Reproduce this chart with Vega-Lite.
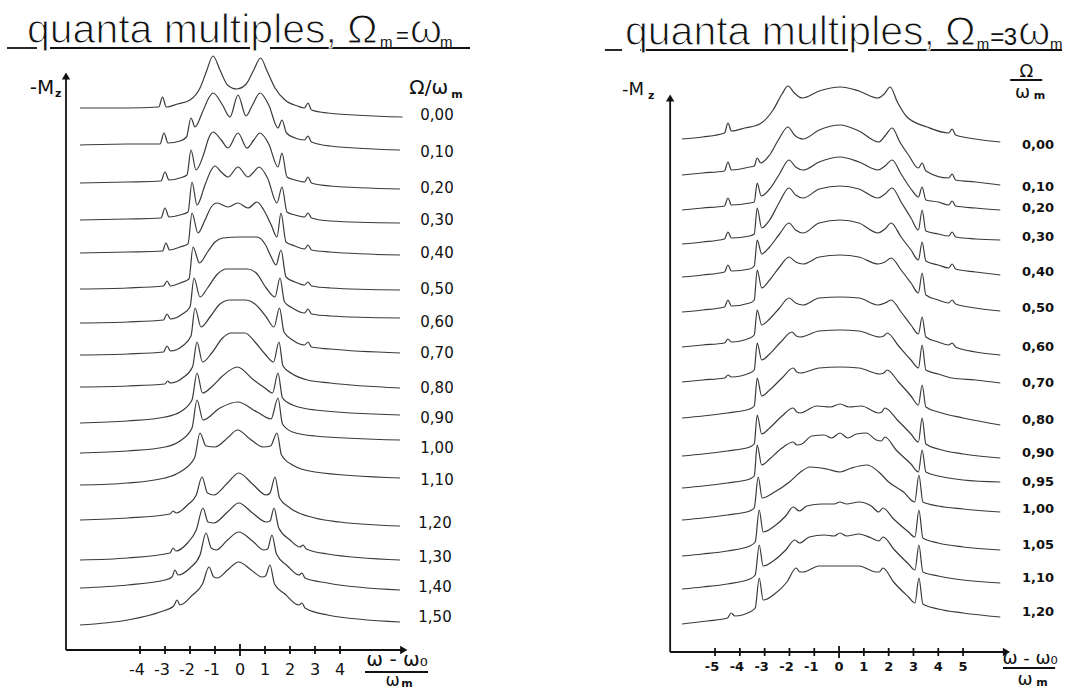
{
"$schema":"https://vega.github.io/schema/vega-lite/v6.json",
"padding":0,"spacing":0,"background":"white",
"config":{"view":{"stroke":null},"concat":{"spacing":0}},
"datasets":{
"cl":[
{"c":"0,00","x":-6.4,"y":542},{"c":"0,00","x":-4.5,"y":542},{"c":"0,00","x":-3.25,"y":543},{"c":"0,00","x":-3.1,"y":553},{"c":"0,00","x":-2.95,"y":543},{"c":"0,00","x":-2.5,"y":546},{"c":"0,00","x":-2.0,"y":550},{"c":"0,00","x":-1.6,"y":562},{"c":"0,00","x":-1.35,"y":578},{"c":"0,00","x":-1.08,"y":594},{"c":"0,00","x":-0.8,"y":580},{"c":"0,00","x":-0.5,"y":565},{"c":"0,00","x":-0.14,"y":561},{"c":"0,00","x":0.25,"y":566},{"c":"0,00","x":0.55,"y":580},{"c":"0,00","x":0.82,"y":592},{"c":"0,00","x":1.1,"y":578},{"c":"0,00","x":1.4,"y":562},{"c":"0,00","x":1.8,"y":550},{"c":"0,00","x":2.3,"y":544},{"c":"0,00","x":2.58,"y":542},{"c":"0,00","x":2.72,"y":547},{"c":"0,00","x":2.86,"y":540},{"c":"0,00","x":3.5,"y":537},{"c":"0,00","x":6.5,"y":533},
{"c":"0,10","x":-6.4,"y":505},{"c":"0,10","x":-4.5,"y":506},{"c":"0,10","x":-3.2,"y":506},{"c":"0,10","x":-3.04,"y":517},{"c":"0,10","x":-2.88,"y":507},{"c":"0,10","x":-2.4,"y":509},{"c":"0,10","x":-2.14,"y":513},{"c":"0,10","x":-1.96,"y":532},{"c":"0,10","x":-1.8,"y":523},{"c":"0,10","x":-1.5,"y":538},{"c":"0,10","x":-1.25,"y":552},{"c":"0,10","x":-1.08,"y":557},{"c":"0,10","x":-0.7,"y":545},{"c":"0,10","x":-0.4,"y":533},{"c":"0,10","x":-0.08,"y":555},{"c":"0,10","x":0.24,"y":534},{"c":"0,10","x":0.5,"y":545},{"c":"0,10","x":0.8,"y":557},{"c":"0,10","x":1.15,"y":545},{"c":"0,10","x":1.52,"y":522},{"c":"0,10","x":1.68,"y":530},{"c":"0,10","x":1.86,"y":517},{"c":"0,10","x":2.2,"y":512},{"c":"0,10","x":2.58,"y":510},{"c":"0,10","x":2.72,"y":514},{"c":"0,10","x":2.86,"y":508},{"c":"0,10","x":3.6,"y":504},{"c":"0,10","x":6.4,"y":500},
{"c":"0,20","x":-6.4,"y":467},{"c":"0,20","x":-4.5,"y":468},{"c":"0,20","x":-3.16,"y":469},{"c":"0,20","x":-3.0,"y":478},{"c":"0,20","x":-2.84,"y":470},{"c":"0,20","x":-2.4,"y":472},{"c":"0,20","x":-2.12,"y":475},{"c":"0,20","x":-1.96,"y":500},{"c":"0,20","x":-1.76,"y":480},{"c":"0,20","x":-1.45,"y":496},{"c":"0,20","x":-1.25,"y":512},{"c":"0,20","x":-1.08,"y":518},{"c":"0,20","x":-0.75,"y":510},{"c":"0,20","x":-0.48,"y":502},{"c":"0,20","x":-0.08,"y":517},{"c":"0,20","x":0.28,"y":502},{"c":"0,20","x":0.55,"y":510},{"c":"0,20","x":0.8,"y":517},{"c":"0,20","x":1.15,"y":506},{"c":"0,20","x":1.52,"y":483},{"c":"0,20","x":1.68,"y":497},{"c":"0,20","x":1.88,"y":473},{"c":"0,20","x":2.2,"y":470},{"c":"0,20","x":2.58,"y":468},{"c":"0,20","x":2.72,"y":473},{"c":"0,20","x":2.86,"y":467},{"c":"0,20","x":3.6,"y":464},{"c":"0,20","x":6.4,"y":461},
{"c":"0,30","x":-6.4,"y":430},{"c":"0,30","x":-4.5,"y":431},{"c":"0,30","x":-3.16,"y":432},{"c":"0,30","x":-3.0,"y":442},{"c":"0,30","x":-2.84,"y":433},{"c":"0,30","x":-2.4,"y":435},{"c":"0,30","x":-2.08,"y":438},{"c":"0,30","x":-1.92,"y":468},{"c":"0,30","x":-1.72,"y":445},{"c":"0,30","x":-1.4,"y":465},{"c":"0,30","x":-1.15,"y":480},{"c":"0,30","x":-1.0,"y":484},{"c":"0,30","x":-0.75,"y":478},{"c":"0,30","x":-0.48,"y":473},{"c":"0,30","x":-0.08,"y":483},{"c":"0,30","x":0.32,"y":473},{"c":"0,30","x":0.55,"y":478},{"c":"0,30","x":0.76,"y":483},{"c":"0,30","x":1.1,"y":472},{"c":"0,30","x":1.48,"y":447},{"c":"0,30","x":1.68,"y":463},{"c":"0,30","x":1.88,"y":438},{"c":"0,30","x":2.2,"y":435},{"c":"0,30","x":2.58,"y":433},{"c":"0,30","x":2.72,"y":437},{"c":"0,30","x":2.86,"y":432},{"c":"0,30","x":3.6,"y":429},{"c":"0,30","x":6.4,"y":427},
{"c":"0,40","x":-6.4,"y":397},{"c":"0,40","x":-4.5,"y":398},{"c":"0,40","x":-3.1,"y":399},{"c":"0,40","x":-2.96,"y":407},{"c":"0,40","x":-2.82,"y":400},{"c":"0,40","x":-2.4,"y":403},{"c":"0,40","x":-2.08,"y":406},{"c":"0,40","x":-1.92,"y":437},{"c":"0,40","x":-1.68,"y":417},{"c":"0,40","x":-1.4,"y":430},{"c":"0,40","x":-1.15,"y":443},{"c":"0,40","x":-0.92,"y":447},{"c":"0,40","x":-0.48,"y":443},{"c":"0,40","x":-0.08,"y":447},{"c":"0,40","x":0.32,"y":442},{"c":"0,40","x":0.68,"y":448},{"c":"0,40","x":0.95,"y":440},{"c":"0,40","x":1.25,"y":425},{"c":"0,40","x":1.48,"y":413},{"c":"0,40","x":1.64,"y":437},{"c":"0,40","x":1.84,"y":408},{"c":"0,40","x":2.2,"y":404},{"c":"0,40","x":2.58,"y":401},{"c":"0,40","x":2.72,"y":405},{"c":"0,40","x":2.86,"y":400},{"c":"0,40","x":3.6,"y":398},{"c":"0,40","x":6.4,"y":395},
{"c":"0,50","x":-6.4,"y":361},{"c":"0,50","x":-4.5,"y":362},{"c":"0,50","x":-3.06,"y":364},{"c":"0,50","x":-2.92,"y":369},{"c":"0,50","x":-2.78,"y":364},{"c":"0,50","x":-2.4,"y":367},{"c":"0,50","x":-2.04,"y":371},{"c":"0,50","x":-1.88,"y":403},{"c":"0,50","x":-1.62,"y":387},{"c":"0,50","x":-1.3,"y":398},{"c":"0,50","x":-1.0,"y":408},{"c":"0,50","x":-0.68,"y":412},{"c":"0,50","x":0,"y":413},{"c":"0,50","x":0.68,"y":413},{"c":"0,50","x":1.0,"y":406},{"c":"0,50","x":1.25,"y":393},{"c":"0,50","x":1.44,"y":385},{"c":"0,50","x":1.64,"y":400},{"c":"0,50","x":1.84,"y":373},{"c":"0,50","x":2.2,"y":368},{"c":"0,50","x":2.58,"y":365},{"c":"0,50","x":2.72,"y":368},{"c":"0,50","x":2.86,"y":364},{"c":"0,50","x":3.6,"y":362},{"c":"0,50","x":6.4,"y":360},
{"c":"0,60","x":-6.4,"y":327},{"c":"0,60","x":-4.5,"y":328},{"c":"0,60","x":-3.06,"y":330},{"c":"0,60","x":-2.92,"y":336},{"c":"0,60","x":-2.78,"y":331},{"c":"0,60","x":-2.3,"y":336},{"c":"0,60","x":-2.0,"y":343},{"c":"0,60","x":-1.84,"y":372},{"c":"0,60","x":-1.6,"y":353},{"c":"0,60","x":-1.3,"y":362},{"c":"0,60","x":-0.9,"y":376},{"c":"0,60","x":-0.55,"y":381},{"c":"0,60","x":0.3,"y":381},{"c":"0,60","x":0.65,"y":377},{"c":"0,60","x":1.05,"y":362},{"c":"0,60","x":1.4,"y":353},{"c":"0,60","x":1.6,"y":372},{"c":"0,60","x":1.78,"y":348},{"c":"0,60","x":2.1,"y":342},{"c":"0,60","x":2.58,"y":337},{"c":"0,60","x":2.72,"y":341},{"c":"0,60","x":2.86,"y":336},{"c":"0,60","x":3.6,"y":334},{"c":"0,60","x":6.4,"y":332},
{"c":"0,70","x":-6.4,"y":295},{"c":"0,70","x":-4.5,"y":296},{"c":"0,70","x":-3.06,"y":298},{"c":"0,70","x":-2.92,"y":304},{"c":"0,70","x":-2.78,"y":299},{"c":"0,70","x":-2.3,"y":304},{"c":"0,70","x":-1.96,"y":314},{"c":"0,70","x":-1.8,"y":342},{"c":"0,70","x":-1.56,"y":323},{"c":"0,70","x":-1.2,"y":333},{"c":"0,70","x":-0.8,"y":346},{"c":"0,70","x":-0.4,"y":350},{"c":"0,70","x":0.2,"y":350},{"c":"0,70","x":0.6,"y":346},{"c":"0,70","x":1.05,"y":333},{"c":"0,70","x":1.36,"y":323},{"c":"0,70","x":1.58,"y":342},{"c":"0,70","x":1.76,"y":318},{"c":"0,70","x":2.1,"y":310},{"c":"0,70","x":2.58,"y":305},{"c":"0,70","x":2.72,"y":308},{"c":"0,70","x":2.86,"y":303},{"c":"0,70","x":3.6,"y":301},{"c":"0,70","x":6.4,"y":297},
{"c":"0,80","x":-6.4,"y":263},{"c":"0,80","x":-4.5,"y":264},{"c":"0,80","x":-3.0,"y":266},{"c":"0,80","x":-2.9,"y":269},{"c":"0,80","x":-2.78,"y":267},{"c":"0,80","x":-2.3,"y":272},{"c":"0,80","x":-1.9,"y":283},{"c":"0,80","x":-1.72,"y":308},{"c":"0,80","x":-1.5,"y":288},{"c":"0,80","x":-1.1,"y":298},{"c":"0,80","x":-0.7,"y":312},{"c":"0,80","x":-0.35,"y":317},{"c":"0,80","x":0.2,"y":317},{"c":"0,80","x":0.6,"y":308},{"c":"0,80","x":1.0,"y":296},{"c":"0,80","x":1.34,"y":288},{"c":"0,80","x":1.56,"y":308},{"c":"0,80","x":1.72,"y":284},{"c":"0,80","x":2.1,"y":276},{"c":"0,80","x":2.7,"y":270},{"c":"0,80","x":3.6,"y":267},{"c":"0,80","x":6.4,"y":262},
{"c":"0,90","x":-6.4,"y":227},{"c":"0,90","x":-4.5,"y":229},{"c":"0,90","x":-3.0,"y":233},{"c":"0,90","x":-2.4,"y":238},{"c":"0,90","x":-1.92,"y":250},{"c":"0,90","x":-1.72,"y":277},{"c":"0,90","x":-1.5,"y":257},{"c":"0,90","x":-1.1,"y":264},{"c":"0,90","x":-0.7,"y":274},{"c":"0,90","x":-0.1,"y":283},{"c":"0,90","x":0.5,"y":271},{"c":"0,90","x":1.0,"y":262},{"c":"0,90","x":1.3,"y":257},{"c":"0,90","x":1.52,"y":277},{"c":"0,90","x":1.7,"y":252},{"c":"0,90","x":2.1,"y":245},{"c":"0,90","x":3.0,"y":240},{"c":"0,90","x":6.4,"y":235},
{"c":"1,00","x":-6.4,"y":197},{"c":"1,00","x":-4.5,"y":199},{"c":"1,00","x":-3.0,"y":203},{"c":"1,00","x":-2.4,"y":209},{"c":"1,00","x":-1.92,"y":222},{"c":"1,00","x":-1.72,"y":250},{"c":"1,00","x":-1.48,"y":230},{"c":"1,00","x":-0.8,"y":242},{"c":"1,00","x":-0.1,"y":248},{"c":"1,00","x":0.68,"y":238},{"c":"1,00","x":1.24,"y":231},{"c":"1,00","x":1.52,"y":252},{"c":"1,00","x":1.7,"y":226},{"c":"1,00","x":2.1,"y":218},{"c":"1,00","x":3.0,"y":214},{"c":"1,00","x":6.4,"y":210},
{"c":"1,10","x":-6.4,"y":165},{"c":"1,10","x":-4.5,"y":167},{"c":"1,10","x":-3.0,"y":172},{"c":"1,10","x":-2.4,"y":178},{"c":"1,10","x":-1.82,"y":192},{"c":"1,10","x":-1.6,"y":217},{"c":"1,10","x":-1.36,"y":204},{"c":"1,10","x":-1.0,"y":203},{"c":"1,10","x":-0.5,"y":212},{"c":"1,10","x":-0.1,"y":220},{"c":"1,10","x":0.4,"y":211},{"c":"1,10","x":0.92,"y":203},{"c":"1,10","x":1.22,"y":204},{"c":"1,10","x":1.48,"y":217},{"c":"1,10","x":1.66,"y":195},{"c":"1,10","x":2.1,"y":185},{"c":"1,10","x":3.0,"y":178},{"c":"1,10","x":6.4,"y":172},
{"c":"1,20","x":-6.4,"y":130},{"c":"1,20","x":-4.5,"y":132},{"c":"1,20","x":-2.8,"y":136},{"c":"1,20","x":-2.68,"y":139},{"c":"1,20","x":-2.55,"y":137},{"c":"1,20","x":-2.1,"y":145},{"c":"1,20","x":-1.75,"y":155},{"c":"1,20","x":-1.52,"y":173},{"c":"1,20","x":-1.3,"y":157},{"c":"1,20","x":-1.05,"y":155},{"c":"1,20","x":-0.5,"y":167},{"c":"1,20","x":-0.05,"y":177},{"c":"1,20","x":0.5,"y":166},{"c":"1,20","x":1.05,"y":155},{"c":"1,20","x":1.2,"y":157},{"c":"1,20","x":1.4,"y":173},{"c":"1,20","x":1.58,"y":152},{"c":"1,20","x":2.0,"y":142},{"c":"1,20","x":3.0,"y":132},{"c":"1,20","x":4.0,"y":128},{"c":"1,20","x":6.4,"y":124},
{"c":"1,30","x":-6.4,"y":90},{"c":"1,30","x":-4.5,"y":92},{"c":"1,30","x":-2.8,"y":97},{"c":"1,30","x":-2.68,"y":102},{"c":"1,30","x":-2.56,"y":99},{"c":"1,30","x":-2.1,"y":107},{"c":"1,30","x":-1.75,"y":120},{"c":"1,30","x":-1.48,"y":142},{"c":"1,30","x":-1.28,"y":128},{"c":"1,30","x":-1.05,"y":127},{"c":"1,30","x":-0.5,"y":138},{"c":"1,30","x":-0.05,"y":147},{"c":"1,30","x":0.5,"y":137},{"c":"1,30","x":1.05,"y":128},{"c":"1,30","x":1.2,"y":129},{"c":"1,30","x":1.36,"y":142},{"c":"1,30","x":1.55,"y":122},{"c":"1,30","x":2.0,"y":110},{"c":"1,30","x":2.4,"y":103},{"c":"1,30","x":2.52,"y":105},{"c":"1,30","x":2.65,"y":101},{"c":"1,30","x":3.5,"y":96},{"c":"1,30","x":6.4,"y":90},
{"c":"1,40","x":-6.4,"y":62},{"c":"1,40","x":-4.5,"y":65},{"c":"1,40","x":-3.0,"y":70},{"c":"1,40","x":-2.72,"y":73},{"c":"1,40","x":-2.6,"y":80},{"c":"1,40","x":-2.48,"y":75},{"c":"1,40","x":-2.0,"y":82},{"c":"1,40","x":-1.6,"y":95},{"c":"1,40","x":-1.36,"y":117},{"c":"1,40","x":-1.15,"y":102},{"c":"1,40","x":-0.95,"y":100},{"c":"1,40","x":-0.5,"y":110},{"c":"1,40","x":-0.05,"y":118},{"c":"1,40","x":0.5,"y":109},{"c":"1,40","x":0.95,"y":100},{"c":"1,40","x":1.1,"y":101},{"c":"1,40","x":1.28,"y":115},{"c":"1,40","x":1.46,"y":96},{"c":"1,40","x":1.9,"y":84},{"c":"1,40","x":2.36,"y":75},{"c":"1,40","x":2.48,"y":77},{"c":"1,40","x":2.6,"y":72},{"c":"1,40","x":3.5,"y":67},{"c":"1,40","x":6.4,"y":60},
{"c":"1,50","x":-6.4,"y":25},{"c":"1,50","x":-4.5,"y":30},{"c":"1,50","x":-3.2,"y":38},{"c":"1,50","x":-2.65,"y":44},{"c":"1,50","x":-2.52,"y":50},{"c":"1,50","x":-2.4,"y":45},{"c":"1,50","x":-1.9,"y":55},{"c":"1,50","x":-1.5,"y":66},{"c":"1,50","x":-1.24,"y":83},{"c":"1,50","x":-1.05,"y":73},{"c":"1,50","x":-0.9,"y":72},{"c":"1,50","x":-0.5,"y":80},{"c":"1,50","x":-0.05,"y":88},{"c":"1,50","x":0.45,"y":80},{"c":"1,50","x":0.88,"y":73},{"c":"1,50","x":1.02,"y":74},{"c":"1,50","x":1.2,"y":85},{"c":"1,50","x":1.38,"y":66},{"c":"1,50","x":1.8,"y":56},{"c":"1,50","x":2.35,"y":45},{"c":"1,50","x":2.48,"y":47},{"c":"1,50","x":2.6,"y":42},{"c":"1,50","x":3.5,"y":35},{"c":"1,50","x":6.4,"y":28}
],
"cr":[
{"c":"0,00","x":-6.33,"y":513},{"c":"0,00","x":-5.5,"y":515},{"c":"0,00","x":-4.62,"y":519},{"c":"0,00","x":-4.48,"y":529},{"c":"0,00","x":-4.34,"y":521},{"c":"0,00","x":-3.8,"y":524},{"c":"0,00","x":-3.2,"y":528},{"c":"0,00","x":-2.66,"y":542},{"c":"0,00","x":-2.3,"y":558},{"c":"0,00","x":-2.06,"y":566},{"c":"0,00","x":-1.8,"y":559},{"c":"0,00","x":-1.49,"y":554},{"c":"0,00","x":-0.8,"y":561},{"c":"0,00","x":0.04,"y":565},{"c":"0,00","x":0.8,"y":561},{"c":"0,00","x":1.57,"y":554},{"c":"0,00","x":1.82,"y":558},{"c":"0,00","x":2.06,"y":565},{"c":"0,00","x":2.35,"y":550},{"c":"0,00","x":2.74,"y":535},{"c":"0,00","x":3.55,"y":525},{"c":"0,00","x":4.42,"y":519},{"c":"0,00","x":4.56,"y":523},{"c":"0,00","x":4.7,"y":517},{"c":"0,00","x":5.5,"y":513},{"c":"0,00","x":6.5,"y":510},
{"c":"0,10","x":-6.33,"y":477},{"c":"0,10","x":-5.5,"y":479},{"c":"0,10","x":-4.62,"y":481},{"c":"0,10","x":-4.48,"y":490},{"c":"0,10","x":-4.34,"y":482},{"c":"0,10","x":-3.6,"y":485},{"c":"0,10","x":-3.42,"y":486},{"c":"0,10","x":-3.3,"y":494},{"c":"0,10","x":-3.16,"y":489},{"c":"0,10","x":-2.8,"y":497},{"c":"0,10","x":-2.45,"y":512},{"c":"0,10","x":-2.06,"y":525},{"c":"0,10","x":-1.8,"y":517},{"c":"0,10","x":-1.45,"y":513},{"c":"0,10","x":-0.8,"y":522},{"c":"0,10","x":0.04,"y":527},{"c":"0,10","x":0.8,"y":521},{"c":"0,10","x":1.6,"y":510},{"c":"0,10","x":1.85,"y":516},{"c":"0,10","x":2.14,"y":524},{"c":"0,10","x":2.45,"y":510},{"c":"0,10","x":2.8,"y":497},{"c":"0,10","x":3.2,"y":484},{"c":"0,10","x":3.35,"y":489},{"c":"0,10","x":3.5,"y":481},{"c":"0,10","x":4.42,"y":474},{"c":"0,10","x":4.56,"y":478},{"c":"0,10","x":4.7,"y":472},{"c":"0,10","x":5.5,"y":470},{"c":"0,10","x":6.5,"y":467},
{"c":"0,20","x":-6.33,"y":442},{"c":"0,20","x":-5.5,"y":444},{"c":"0,20","x":-4.62,"y":446},{"c":"0,20","x":-4.48,"y":454},{"c":"0,20","x":-4.34,"y":447},{"c":"0,20","x":-3.6,"y":449},{"c":"0,20","x":-3.42,"y":450},{"c":"0,20","x":-3.3,"y":469},{"c":"0,20","x":-3.14,"y":456},{"c":"0,20","x":-2.8,"y":463},{"c":"0,20","x":-2.4,"y":478},{"c":"0,20","x":-2.02,"y":492},{"c":"0,20","x":-1.75,"y":485},{"c":"0,20","x":-1.45,"y":482},{"c":"0,20","x":-0.8,"y":490},{"c":"0,20","x":0.04,"y":495},{"c":"0,20","x":0.8,"y":490},{"c":"0,20","x":1.57,"y":482},{"c":"0,20","x":1.85,"y":486},{"c":"0,20","x":2.14,"y":492},{"c":"0,20","x":2.5,"y":478},{"c":"0,20","x":2.9,"y":463},{"c":"0,20","x":3.2,"y":455},{"c":"0,20","x":3.35,"y":465},{"c":"0,20","x":3.5,"y":452},{"c":"0,20","x":4.0,"y":450},{"c":"0,20","x":4.42,"y":447},{"c":"0,20","x":4.56,"y":451},{"c":"0,20","x":4.7,"y":446},{"c":"0,20","x":5.5,"y":444},{"c":"0,20","x":6.5,"y":442},
{"c":"0,30","x":-6.33,"y":408},{"c":"0,30","x":-5.5,"y":410},{"c":"0,30","x":-4.62,"y":413},{"c":"0,30","x":-4.48,"y":420},{"c":"0,30","x":-4.34,"y":414},{"c":"0,30","x":-3.6,"y":416},{"c":"0,30","x":-3.42,"y":418},{"c":"0,30","x":-3.3,"y":444},{"c":"0,30","x":-3.12,"y":424},{"c":"0,30","x":-2.8,"y":432},{"c":"0,30","x":-2.4,"y":450},{"c":"0,30","x":-2.02,"y":464},{"c":"0,30","x":-1.75,"y":457},{"c":"0,30","x":-1.45,"y":454},{"c":"0,30","x":-0.8,"y":463},{"c":"0,30","x":0.04,"y":466},{"c":"0,30","x":0.8,"y":463},{"c":"0,30","x":1.57,"y":454},{"c":"0,30","x":1.85,"y":458},{"c":"0,30","x":2.14,"y":464},{"c":"0,30","x":2.5,"y":450},{"c":"0,30","x":2.9,"y":434},{"c":"0,30","x":3.2,"y":422},{"c":"0,30","x":3.35,"y":442},{"c":"0,30","x":3.5,"y":421},{"c":"0,30","x":4.0,"y":418},{"c":"0,30","x":4.42,"y":416},{"c":"0,30","x":4.56,"y":420},{"c":"0,30","x":4.7,"y":415},{"c":"0,30","x":5.5,"y":413},{"c":"0,30","x":6.5,"y":412},
{"c":"0,40","x":-6.33,"y":375},{"c":"0,40","x":-5.5,"y":377},{"c":"0,40","x":-4.62,"y":380},{"c":"0,40","x":-4.48,"y":387},{"c":"0,40","x":-4.34,"y":381},{"c":"0,40","x":-3.6,"y":383},{"c":"0,40","x":-3.42,"y":386},{"c":"0,40","x":-3.3,"y":412},{"c":"0,40","x":-3.12,"y":398},{"c":"0,40","x":-2.8,"y":405},{"c":"0,40","x":-2.4,"y":418},{"c":"0,40","x":-2.02,"y":429},{"c":"0,40","x":-1.75,"y":422},{"c":"0,40","x":-1.45,"y":419},{"c":"0,40","x":-0.8,"y":429},{"c":"0,40","x":0.04,"y":432},{"c":"0,40","x":0.8,"y":429},{"c":"0,40","x":1.57,"y":419},{"c":"0,40","x":1.85,"y":423},{"c":"0,40","x":2.1,"y":429},{"c":"0,40","x":2.5,"y":415},{"c":"0,40","x":2.9,"y":402},{"c":"0,40","x":3.2,"y":392},{"c":"0,40","x":3.35,"y":410},{"c":"0,40","x":3.5,"y":391},{"c":"0,40","x":4.0,"y":387},{"c":"0,40","x":4.42,"y":384},{"c":"0,40","x":4.56,"y":388},{"c":"0,40","x":4.7,"y":383},{"c":"0,40","x":5.5,"y":380},{"c":"0,40","x":6.5,"y":377},
{"c":"0,50","x":-6.33,"y":340},{"c":"0,50","x":-5.5,"y":342},{"c":"0,50","x":-4.62,"y":345},{"c":"0,50","x":-4.48,"y":352},{"c":"0,50","x":-4.34,"y":346},{"c":"0,50","x":-3.6,"y":349},{"c":"0,50","x":-3.42,"y":352},{"c":"0,50","x":-3.3,"y":382},{"c":"0,50","x":-3.12,"y":364},{"c":"0,50","x":-2.8,"y":372},{"c":"0,50","x":-2.4,"y":385},{"c":"0,50","x":-2.02,"y":395},{"c":"0,50","x":-1.75,"y":390},{"c":"0,50","x":-1.45,"y":388},{"c":"0,50","x":-0.8,"y":395},{"c":"0,50","x":0.04,"y":397},{"c":"0,50","x":0.8,"y":395},{"c":"0,50","x":1.57,"y":388},{"c":"0,50","x":1.85,"y":390},{"c":"0,50","x":2.1,"y":394},{"c":"0,50","x":2.5,"y":382},{"c":"0,50","x":2.9,"y":369},{"c":"0,50","x":3.2,"y":359},{"c":"0,50","x":3.35,"y":379},{"c":"0,50","x":3.5,"y":357},{"c":"0,50","x":4.0,"y":352},{"c":"0,50","x":4.42,"y":349},{"c":"0,50","x":4.56,"y":352},{"c":"0,50","x":4.7,"y":348},{"c":"0,50","x":5.5,"y":344},{"c":"0,50","x":6.5,"y":341},
{"c":"0,60","x":-6.33,"y":305},{"c":"0,60","x":-5.5,"y":307},{"c":"0,60","x":-4.62,"y":309},{"c":"0,60","x":-4.48,"y":313},{"c":"0,60","x":-4.34,"y":310},{"c":"0,60","x":-3.6,"y":314},{"c":"0,60","x":-3.42,"y":317},{"c":"0,60","x":-3.3,"y":342},{"c":"0,60","x":-3.12,"y":327},{"c":"0,60","x":-2.8,"y":333},{"c":"0,60","x":-2.4,"y":344},{"c":"0,60","x":-2.02,"y":354},{"c":"0,60","x":-1.75,"y":349},{"c":"0,60","x":-1.45,"y":347},{"c":"0,60","x":-0.8,"y":354},{"c":"0,60","x":0.04,"y":355},{"c":"0,60","x":0.8,"y":354},{"c":"0,60","x":1.57,"y":347},{"c":"0,60","x":1.85,"y":349},{"c":"0,60","x":2.1,"y":352},{"c":"0,60","x":2.5,"y":340},{"c":"0,60","x":2.9,"y":327},{"c":"0,60","x":3.2,"y":318},{"c":"0,60","x":3.35,"y":335},{"c":"0,60","x":3.5,"y":315},{"c":"0,60","x":4.0,"y":310},{"c":"0,60","x":4.42,"y":307},{"c":"0,60","x":4.56,"y":309},{"c":"0,60","x":4.7,"y":305},{"c":"0,60","x":5.5,"y":300},{"c":"0,60","x":6.5,"y":297},
{"c":"0,70","x":-6.33,"y":270},{"c":"0,70","x":-5.5,"y":272},{"c":"0,70","x":-4.62,"y":274},{"c":"0,70","x":-4.48,"y":277},{"c":"0,70","x":-4.34,"y":275},{"c":"0,70","x":-3.6,"y":279},{"c":"0,70","x":-3.42,"y":282},{"c":"0,70","x":-3.3,"y":309},{"c":"0,70","x":-3.12,"y":292},{"c":"0,70","x":-2.8,"y":298},{"c":"0,70","x":-2.35,"y":310},{"c":"0,70","x":-1.9,"y":320},{"c":"0,70","x":-1.72,"y":316},{"c":"0,70","x":-1.57,"y":315},{"c":"0,70","x":-0.8,"y":321},{"c":"0,70","x":0.04,"y":322},{"c":"0,70","x":0.8,"y":321},{"c":"0,70","x":1.65,"y":315},{"c":"0,70","x":1.8,"y":316},{"c":"0,70","x":1.94,"y":319},{"c":"0,70","x":2.4,"y":306},{"c":"0,70","x":2.9,"y":292},{"c":"0,70","x":3.2,"y":284},{"c":"0,70","x":3.35,"y":307},{"c":"0,70","x":3.5,"y":282},{"c":"0,70","x":4.0,"y":278},{"c":"0,70","x":4.56,"y":274},{"c":"0,70","x":5.5,"y":272},{"c":"0,70","x":6.5,"y":269},
{"c":"0,80","x":-6.33,"y":234},{"c":"0,80","x":-5.5,"y":236},{"c":"0,80","x":-4.5,"y":239},{"c":"0,80","x":-3.6,"y":243},{"c":"0,80","x":-3.42,"y":246},{"c":"0,80","x":-3.3,"y":274},{"c":"0,80","x":-3.12,"y":256},{"c":"0,80","x":-2.8,"y":262},{"c":"0,80","x":-2.3,"y":274},{"c":"0,80","x":-1.85,"y":284},{"c":"0,80","x":-1.7,"y":280},{"c":"0,80","x":-1.57,"y":279},{"c":"0,80","x":-0.8,"y":284},{"c":"0,80","x":0.04,"y":285},{"c":"0,80","x":0.8,"y":284},{"c":"0,80","x":1.65,"y":278},{"c":"0,80","x":1.8,"y":279},{"c":"0,80","x":1.94,"y":282},{"c":"0,80","x":2.4,"y":270},{"c":"0,80","x":2.9,"y":256},{"c":"0,80","x":3.2,"y":247},{"c":"0,80","x":3.35,"y":267},{"c":"0,80","x":3.5,"y":245},{"c":"0,80","x":4.0,"y":240},{"c":"0,80","x":5.0,"y":234},{"c":"0,80","x":6.5,"y":227},
{"c":"0,90","x":-6.33,"y":196},{"c":"0,90","x":-5.5,"y":198},{"c":"0,90","x":-4.5,"y":201},{"c":"0,90","x":-3.6,"y":205},{"c":"0,90","x":-3.42,"y":208},{"c":"0,90","x":-3.3,"y":237},{"c":"0,90","x":-3.12,"y":218},{"c":"0,90","x":-2.8,"y":224},{"c":"0,90","x":-2.3,"y":236},{"c":"0,90","x":-1.85,"y":244},{"c":"0,90","x":-1.7,"y":240},{"c":"0,90","x":-1.57,"y":239},{"c":"0,90","x":-0.9,"y":246},{"c":"0,90","x":-0.35,"y":245},{"c":"0,90","x":0.04,"y":248},{"c":"0,90","x":0.4,"y":245},{"c":"0,90","x":0.9,"y":246},{"c":"0,90","x":1.6,"y":239},{"c":"0,90","x":1.72,"y":240},{"c":"0,90","x":1.85,"y":244},{"c":"0,90","x":2.35,"y":232},{"c":"0,90","x":2.9,"y":218},{"c":"0,90","x":3.2,"y":210},{"c":"0,90","x":3.35,"y":234},{"c":"0,90","x":3.5,"y":208},{"c":"0,90","x":4.0,"y":203},{"c":"0,90","x":5.0,"y":198},{"c":"0,90","x":6.5,"y":194},
{"c":"0,95","x":-6.33,"y":164},{"c":"0,95","x":-5.5,"y":166},{"c":"0,95","x":-4.5,"y":169},{"c":"0,95","x":-3.6,"y":173},{"c":"0,95","x":-3.42,"y":176},{"c":"0,95","x":-3.3,"y":207},{"c":"0,95","x":-3.12,"y":187},{"c":"0,95","x":-2.8,"y":193},{"c":"0,95","x":-2.3,"y":204},{"c":"0,95","x":-1.85,"y":210},{"c":"0,95","x":-1.7,"y":207},{"c":"0,95","x":-1.5,"y":208},{"c":"0,95","x":-1.1,"y":216},{"c":"0,95","x":-0.6,"y":217},{"c":"0,95","x":-0.3,"y":214},{"c":"0,95","x":0.04,"y":219},{"c":"0,95","x":0.35,"y":214},{"c":"0,95","x":0.7,"y":218},{"c":"0,95","x":1.1,"y":219},{"c":"0,95","x":1.5,"y":212},{"c":"0,95","x":1.7,"y":211},{"c":"0,95","x":1.85,"y":215},{"c":"0,95","x":2.3,"y":202},{"c":"0,95","x":2.9,"y":188},{"c":"0,95","x":3.2,"y":180},{"c":"0,95","x":3.35,"y":202},{"c":"0,95","x":3.5,"y":180},{"c":"0,95","x":4.0,"y":176},{"c":"0,95","x":5.0,"y":172},{"c":"0,95","x":6.5,"y":170},
{"c":"1,00","x":-6.33,"y":132},{"c":"1,00","x":-5.5,"y":134},{"c":"1,00","x":-4.5,"y":137},{"c":"1,00","x":-3.6,"y":141},{"c":"1,00","x":-3.42,"y":144},{"c":"1,00","x":-3.26,"y":175},{"c":"1,00","x":-3.1,"y":154},{"c":"1,00","x":-2.6,"y":160},{"c":"1,00","x":-2.0,"y":170},{"c":"1,00","x":-1.6,"y":179},{"c":"1,00","x":-1.17,"y":185},{"c":"1,00","x":-0.5,"y":183},{"c":"1,00","x":0.04,"y":180},{"c":"1,00","x":0.5,"y":184},{"c":"1,00","x":1.13,"y":187},{"c":"1,00","x":1.6,"y":180},{"c":"1,00","x":2.0,"y":170},{"c":"1,00","x":2.6,"y":160},{"c":"1,00","x":3.05,"y":150},{"c":"1,00","x":3.22,"y":177},{"c":"1,00","x":3.38,"y":150},{"c":"1,00","x":4.0,"y":146},{"c":"1,00","x":5.0,"y":143},{"c":"1,00","x":6.5,"y":140},
{"c":"1,05","x":-6.33,"y":96},{"c":"1,05","x":-5.5,"y":98},{"c":"1,05","x":-4.5,"y":101},{"c":"1,05","x":-3.6,"y":106},{"c":"1,05","x":-3.38,"y":110},{"c":"1,05","x":-3.22,"y":142},{"c":"1,05","x":-3.06,"y":120},{"c":"1,05","x":-2.6,"y":126},{"c":"1,05","x":-2.15,"y":136},{"c":"1,05","x":-1.85,"y":145},{"c":"1,05","x":-1.6,"y":141},{"c":"1,05","x":-1.3,"y":146},{"c":"1,05","x":-0.7,"y":148},{"c":"1,05","x":-0.2,"y":148},{"c":"1,05","x":0.04,"y":150},{"c":"1,05","x":0.3,"y":148},{"c":"1,05","x":0.8,"y":150},{"c":"1,05","x":1.3,"y":146},{"c":"1,05","x":1.6,"y":140},{"c":"1,05","x":1.77,"y":144},{"c":"1,05","x":2.2,"y":133},{"c":"1,05","x":2.8,"y":120},{"c":"1,05","x":3.06,"y":115},{"c":"1,05","x":3.22,"y":142},{"c":"1,05","x":3.38,"y":114},{"c":"1,05","x":4.0,"y":109},{"c":"1,05","x":5.0,"y":105},{"c":"1,05","x":6.5,"y":102},
{"c":"1,10","x":-6.33,"y":63},{"c":"1,10","x":-5.5,"y":65},{"c":"1,10","x":-4.5,"y":68},{"c":"1,10","x":-3.6,"y":73},{"c":"1,10","x":-3.38,"y":77},{"c":"1,10","x":-3.22,"y":107},{"c":"1,10","x":-3.06,"y":86},{"c":"1,10","x":-2.6,"y":92},{"c":"1,10","x":-2.15,"y":102},{"c":"1,10","x":-1.78,"y":112},{"c":"1,10","x":-1.6,"y":109},{"c":"1,10","x":-1.2,"y":115},{"c":"1,10","x":-0.6,"y":117},{"c":"1,10","x":-0.2,"y":116},{"c":"1,10","x":0.04,"y":119},{"c":"1,10","x":0.3,"y":116},{"c":"1,10","x":0.8,"y":118},{"c":"1,10","x":1.3,"y":114},{"c":"1,10","x":1.6,"y":111},{"c":"1,10","x":1.78,"y":115},{"c":"1,10","x":2.2,"y":103},{"c":"1,10","x":2.8,"y":88},{"c":"1,10","x":3.06,"y":82},{"c":"1,10","x":3.22,"y":107},{"c":"1,10","x":3.38,"y":80},{"c":"1,10","x":4.0,"y":76},{"c":"1,10","x":5.0,"y":72},{"c":"1,10","x":6.5,"y":69},
{"c":"1,20","x":-6.33,"y":28},{"c":"1,20","x":-5.3,"y":31},{"c":"1,20","x":-4.5,"y":34},{"c":"1,20","x":-4.35,"y":39},{"c":"1,20","x":-4.2,"y":36},{"c":"1,20","x":-3.6,"y":40},{"c":"1,20","x":-3.38,"y":44},{"c":"1,20","x":-3.22,"y":74},{"c":"1,20","x":-3.06,"y":52},{"c":"1,20","x":-2.6,"y":58},{"c":"1,20","x":-2.1,"y":70},{"c":"1,20","x":-1.73,"y":84},{"c":"1,20","x":-1.58,"y":80},{"c":"1,20","x":-1.45,"y":80},{"c":"1,20","x":-0.8,"y":86},{"c":"1,20","x":0.04,"y":86},{"c":"1,20","x":0.8,"y":86},{"c":"1,20","x":1.5,"y":80},{"c":"1,20","x":1.62,"y":80},{"c":"1,20","x":1.77,"y":84},{"c":"1,20","x":2.2,"y":70},{"c":"1,20","x":2.8,"y":55},{"c":"1,20","x":3.06,"y":49},{"c":"1,20","x":3.22,"y":74},{"c":"1,20","x":3.38,"y":48},{"c":"1,20","x":4.0,"y":43},{"c":"1,20","x":5.0,"y":39},{"c":"1,20","x":6.5,"y":35}
],
"sl":[
{"x":-6.96,"x2":-6.96,"y":0,"y2":572},{"x":-6.96,"x2":6.5,"y":0,"y2":0},
{"x":-4,"x2":-4,"y":-4,"y2":4},{"x":-3,"x2":-3,"y":-4,"y2":4},{"x":-2,"x2":-2,"y":-4,"y2":4},{"x":-1,"x2":-1,"y":-4,"y2":4},{"x":0,"x2":0,"y":-6,"y2":6},{"x":1,"x2":1,"y":-4,"y2":4},{"x":2,"x2":2,"y":-4,"y2":4},{"x":3,"x2":3,"y":-4,"y2":4},{"x":4,"x2":4,"y":-4,"y2":4},
{"x":-9.32,"x2":-8.12,"y":602,"y2":602},{"x":-7.6,"x2":0.4,"y":602,"y2":602},{"x":1.2,"x2":9.2,"y":602,"y2":602},
{"x":5.0,"x2":7.52,"y":-22,"y2":-22}
],
"sr":[
{"x":-6.81,"x2":-6.81,"y":0,"y2":552},{"x":-6.81,"x2":6.7,"y":0,"y2":0},
{"x":-5,"x2":-5,"y":-4,"y2":4},{"x":-4,"x2":-4,"y":-4,"y2":4},{"x":-3,"x2":-3,"y":-4,"y2":4},{"x":-2,"x2":-2,"y":-4,"y2":4},{"x":-1,"x2":-1,"y":-4,"y2":4},{"x":0,"x2":0,"y":-6,"y2":6},{"x":1,"x2":1,"y":-4,"y2":4},{"x":2,"x2":2,"y":-4,"y2":4},{"x":3,"x2":3,"y":-4,"y2":4},{"x":4,"x2":4,"y":-4,"y2":4},{"x":5,"x2":5,"y":-4,"y2":4},
{"x":-9.44,"x2":-8.75,"y":602,"y2":602},{"x":-8.02,"x2":0.36,"y":602,"y2":602},{"x":1.17,"x2":8.99,"y":602,"y2":602},
{"x":6.9,"x2":8.19,"y":572,"y2":572},{"x":6.61,"x2":8.71,"y":-16,"y2":-16}
],
"upl":[{"x":-6.96,"y":574}],"rtl":[{"x":6.55,"y":0}],
"upr":[{"x":-6.81,"y":554}],"rtr":[{"x":6.75,"y":0}],
"tkl":[{"t":"-4","x":-4.12,"y":-20},{"t":"-3","x":-3.12,"y":-20},{"t":"-2","x":-2.12,"y":-20},{"t":"-1","x":-1.12,"y":-20},{"t":"0","x":0,"y":-20},{"t":"1","x":1,"y":-20},{"t":"2","x":2,"y":-20},{"t":"3","x":3,"y":-20},{"t":"4","x":4,"y":-20}],
"tkr":[{"t":"-5","x":-5.12,"y":-15},{"t":"-4","x":-4.12,"y":-15},{"t":"-3","x":-3.12,"y":-15},{"t":"-2","x":-2.12,"y":-15},{"t":"-1","x":-1.12,"y":-15},{"t":"0","x":0,"y":-15},{"t":"1","x":1,"y":-15},{"t":"2","x":2,"y":-15},{"t":"3","x":3,"y":-15},{"t":"4","x":4,"y":-15},{"t":"5","x":5,"y":-15}],
"rll":[{"t":"0,00","x":7.88,"y":535},{"t":"0,10","x":7.88,"y":498},{"t":"0,20","x":7.88,"y":462},{"t":"0,30","x":7.88,"y":430},{"t":"0,40","x":7.88,"y":397},{"t":"0,50","x":7.88,"y":361},{"t":"0,60","x":7.88,"y":328},{"t":"0,70","x":7.88,"y":297},{"t":"0,80","x":7.88,"y":262},{"t":"0,90","x":7.88,"y":232},{"t":"1,00","x":7.88,"y":202},{"t":"1,10","x":7.88,"y":170},{"t":"1,20","x":7.8,"y":127},{"t":"1,30","x":7.8,"y":93},{"t":"1,40","x":7.8,"y":63},{"t":"1,50","x":7.8,"y":33}],
"rlr":[{"t":"0,00","x":8.02,"y":507},{"t":"0,10","x":8.02,"y":465},{"t":"0,20","x":8.02,"y":444},{"t":"0,30","x":8.02,"y":415},{"t":"0,40","x":8.02,"y":380},{"t":"0,50","x":8.02,"y":344},{"t":"0,60","x":8.02,"y":305},{"t":"0,70","x":8.02,"y":269},{"t":"0,80","x":8.02,"y":232},{"t":"0,90","x":8.02,"y":199},{"t":"0,95","x":8.02,"y":170},{"t":"1,00","x":8.02,"y":143},{"t":"1,05","x":8.02,"y":107},{"t":"1,10","x":8.02,"y":74},{"t":"1,20","x":8.02,"y":40}],
"ttl":[{"t":"quanta multiples,","x":-8.52,"y":607},{"t":"Ω","x":4.28,"y":607},{"t":"ω","x":6.8,"y":607}],
"tml":[{"t":"=","x":6.24,"y":607}],
"tsl":[{"t":"m","x":5.6,"y":603},{"t":"m","x":8.0,"y":603}],
"ttr":[{"t":"quanta multiples,","x":-8.63,"y":607},{"t":"Ω","x":4.27,"y":607},{"t":"ω","x":7.22,"y":607}],
"tmr":[{"t":"=","x":6.1,"y":607},{"t":"3","x":6.64,"y":607}],
"tsr":[{"t":"m","x":5.55,"y":603},{"t":"m","x":8.5,"y":603}],
"anl":[{"t":"-M","x":-7.92,"y":562},{"t":"Ω/ω","x":7.55,"y":562},{"t":"ω - ω₀","x":6.28,"y":-10}],
"adl":[{"t":"ω","x":6.1,"y":-31}],
"asl":[{"t":"z","x":-7.4,"y":556},{"t":"m","x":8.45,"y":555},{"t":"m","x":6.45,"y":-34}],
"anr":[{"t":"-M","x":-8.31,"y":562},{"t":"Ω","x":7.55,"y":580},{"t":"ω","x":7.4,"y":559},{"t":"ω - ω₀","x":7.7,"y":-7},{"t":"ω","x":7.5,"y":-28}],
"asr":[{"t":"z","x":-7.7,"y":556},{"t":"m","x":7.85,"y":556},{"t":"m","x":7.95,"y":-31}]
},
"hconcat":[
{"width":533,"height":691,
"encoding":{"x":{"field":"x","type":"quantitative","scale":{"domain":[-9.6,11.72],"nice":false,"zero":false},"axis":null},
"y":{"field":"y","type":"quantitative","scale":{"domain":[-41,650],"nice":false,"zero":false},"axis":null}},
"layer":[
{"data":{"name":"cl"},"mark":{"type":"line","interpolate":"monotone","strokeWidth":1.2,"color":"#3a3a3a"},"encoding":{"detail":{"field":"c"}}},
{"data":{"name":"sl"},"mark":{"type":"rule","strokeWidth":1.8,"color":"#111"},"encoding":{"x2":{"field":"x2"},"y2":{"field":"y2"}}},
{"data":{"name":"upl"},"mark":{"type":"point","shape":"triangle-up","filled":true,"size":70,"color":"#111","opacity":1}},
{"data":{"name":"rtl"},"mark":{"type":"point","shape":"triangle-right","filled":true,"size":70,"color":"#111","opacity":1}},
{"data":{"name":"tkl"},"mark":{"type":"text","font":"DejaVu Sans","fontSize":16,"align":"center","baseline":"middle","color":"#111"},"encoding":{"text":{"field":"t"}}},
{"data":{"name":"rll"},"mark":{"type":"text","font":"DejaVu Sans","fontSize":15,"align":"center","baseline":"middle","color":"#111"},"encoding":{"text":{"field":"t"}}},
{"data":{"name":"ttl"},"mark":{"type":"text","font":"Liberation Sans","fontSize":41,"align":"left","baseline":"alphabetic","color":"#111","stroke":"white","strokeWidth":1.1},"encoding":{"text":{"field":"t"}}},
{"data":{"name":"tml"},"mark":{"type":"text","font":"Liberation Sans","fontSize":22,"align":"left","baseline":"alphabetic","color":"#111"},"encoding":{"text":{"field":"t"}}},
{"data":{"name":"tsl"},"mark":{"type":"text","font":"Liberation Sans","fontSize":15,"align":"left","baseline":"alphabetic","color":"#111"},"encoding":{"text":{"field":"t"}}},
{"data":{"name":"anl"},"mark":{"type":"text","font":"DejaVu Sans","fontSize":20,"align":"center","baseline":"middle","color":"#111"},"encoding":{"text":{"field":"t"}}},
{"data":{"name":"adl"},"mark":{"type":"text","font":"DejaVu Sans","fontSize":17,"align":"center","baseline":"middle","color":"#111"},"encoding":{"text":{"field":"t"}}},
{"data":{"name":"asl"},"mark":{"type":"text","font":"DejaVu Sans","fontSize":11,"align":"left","baseline":"middle","color":"#111","fontWeight":"bold"},"encoding":{"text":{"field":"t"}}}
]},
{"width":533,"height":691,
"encoding":{"x":{"field":"x","type":"quantitative","scale":{"domain":[-12.34,9.15],"nice":false,"zero":false},"axis":null},
"y":{"field":"y","type":"quantitative","scale":{"domain":[-39,652],"nice":false,"zero":false},"axis":null}},
"layer":[
{"data":{"name":"cr"},"mark":{"type":"line","interpolate":"monotone","strokeWidth":1.2,"color":"#3a3a3a"},"encoding":{"detail":{"field":"c"}}},
{"data":{"name":"sr"},"mark":{"type":"rule","strokeWidth":1.8,"color":"#111"},"encoding":{"x2":{"field":"x2"},"y2":{"field":"y2"}}},
{"data":{"name":"upr"},"mark":{"type":"point","shape":"triangle-up","filled":true,"size":70,"color":"#111","opacity":1}},
{"data":{"name":"rtr"},"mark":{"type":"point","shape":"triangle-right","filled":true,"size":70,"color":"#111","opacity":1}},
{"data":{"name":"tkr"},"mark":{"type":"text","font":"DejaVu Sans","fontSize":13,"fontWeight":"bold","align":"center","baseline":"middle","color":"#111"},"encoding":{"text":{"field":"t"}}},
{"data":{"name":"rlr"},"mark":{"type":"text","font":"DejaVu Sans","fontSize":13,"fontWeight":"bold","align":"center","baseline":"middle","color":"#111"},"encoding":{"text":{"field":"t"}}},
{"data":{"name":"ttr"},"mark":{"type":"text","font":"Liberation Sans","fontSize":41,"align":"left","baseline":"alphabetic","color":"#111","stroke":"white","strokeWidth":1.1},"encoding":{"text":{"field":"t"}}},
{"data":{"name":"tmr"},"mark":{"type":"text","font":"Liberation Sans","fontSize":24,"align":"left","baseline":"alphabetic","color":"#111"},"encoding":{"text":{"field":"t"}}},
{"data":{"name":"tsr"},"mark":{"type":"text","font":"Liberation Sans","fontSize":15,"align":"left","baseline":"alphabetic","color":"#111"},"encoding":{"text":{"field":"t"}}},
{"data":{"name":"anr"},"mark":{"type":"text","font":"DejaVu Sans","fontSize":18,"align":"center","baseline":"middle","color":"#111"},"encoding":{"text":{"field":"t"}}},
{"data":{"name":"asr"},"mark":{"type":"text","font":"DejaVu Sans","fontSize":11,"align":"left","baseline":"middle","color":"#111","fontWeight":"bold"},"encoding":{"text":{"field":"t"}}}
]}
]
}
